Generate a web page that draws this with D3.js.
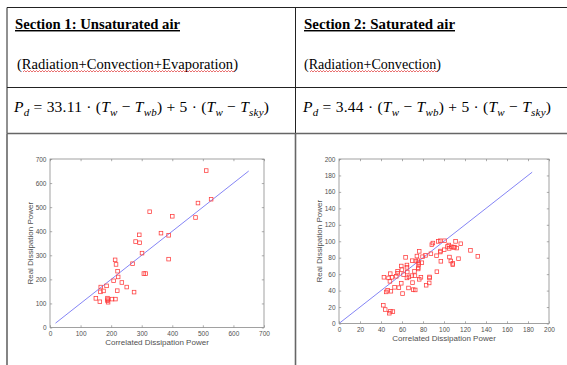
<!DOCTYPE html>
<html><head><meta charset="utf-8">
<script src="https://cdn.jsdelivr.net/npm/d3@7"></script>
<style>body{margin:0;background:#fff}svg{display:block}</style>
</head><body>
<svg id="c" width="567" height="365"></svg>
<script>
// ---- data ----
const sectionTitles = ["Section 1: Unsaturated air", "Section 2: Saturated air"];
const sectionSubs = ["(Radiation+Convection+Evaporation)", "(Radiation+Convection)"];
const coefs = ["33.11", "3.44"];
const axisLabelX = "Correlated Dissipation Power";
const axisLabelY = "Real Dissipation Power";
const ticks1 = [0,100,200,300,400,500,600,700];
const ticks2 = [0,20,40,60,80,100,120,140,160,180,200];
const fit1 = [[18,18],[650,650]];
const fit2 = [[1,1],[184,184]];
const unsatX = [511,527,484,476,400,326,363,388,388,292,280,293,301,270,213,216,221,223,208,235,185,251,166,220,175,165,275,307,313,150,188,189,203,214,163,190,188];
const unsatY = [652,533,517,457,462,481,392,383,284,385,357,352,309,265,281,262,234,210,194,187,173,168,168,153,152,148,147,224,224,121,122,116,118,118,107,105,111];
const satX = [42.2,44,47.9,49,51.3,42.8,47.2,48.8,48.5,50.4,45,46.3,49.4,52.9,57,60.5,54.5,55.8,55.8,59.3,59.9,59.3,61.5,63.4,64.7,64.7,65,64.7,66.6,66.2,69.4,70,70.7,72.6,69.7,71.9,72.3,73.2,74.2,75.1,75.8,75.4,75.4,76,76.4,76.4,78,78.9,79.6,83,82.4,85.9,86.2,86.2,87.5,88.4,89.4,92.9,93.2,94.5,96.4,96.7,96.4,97,100.2,100.5,103.3,104.6,105.2,104.9,106.5,107.1,108.4,108.4,109,110,111,112.2,113.8,116,125.2,132.2];
const satY = [22.2,17,12.5,15,14.5,56.2,55.4,60.6,51.3,56.2,38.4,40.4,39.2,44,43.6,36.4,57.4,61,63.4,69.9,65.5,48.9,59.4,80.4,71.1,68.3,62.6,55.4,56.6,43.2,58.2,49.7,41.2,40.8,76.4,63.4,58.2,76,82,76.4,73.9,67.9,66.3,71.5,87.7,53.7,56.2,73.9,81.2,46.5,82.8,49.3,55.4,56.6,84.8,95.8,97.8,82.4,63,99.8,86.9,88.1,100.6,75.6,89.7,100.6,93.7,95.4,80.8,91.3,76,93.3,73.1,71.5,92.5,92.9,99.8,91.7,78.8,97,88.9,81.6];

const svg = d3.select("#c");
const serif = "'Liberation Serif', 'Times New Roman', serif";

// ---- table ----
const lineCol = "#222";
const T = {left:7, mid:295.5, right:567, top:7.5, div1:87.5, div2:133.5, bottom:365};
const tl = [[T.left,T.top,T.right,T.top],[T.left,T.div1,T.right,T.div1],[T.left,T.top,T.left,T.div2],[T.mid,T.top,T.mid,T.div2]];
svg.selectAll("line.tb").data(tl).join("line").attr("class","tb")
  .attr("x1",d=>d[0]).attr("y1",d=>d[1]).attr("x2",d=>d[2]).attr("y2",d=>d[3])
  .attr("stroke",lineCol).attr("stroke-width",1);
const tl2 = [[T.left,T.div2,T.right,T.div2],[T.left,T.div2,T.left,T.bottom],[T.mid,T.div2,T.mid,T.bottom]];
svg.selectAll("line.tb2").data(tl2).join("line").attr("class","tb2")
  .attr("x1",d=>d[0]).attr("y1",d=>d[1]).attr("x2",d=>d[2]).attr("y2",d=>d[3])
  .attr("stroke","#666").attr("stroke-width",1.6);

const colX = [15, 304];
const subOff = [2, 0];
const titleW = [165, 151];
const subW = [221, 137];
const formW = [255, 248];
colX.forEach((x,i)=>{
  svg.append("text").attr("x",x).attr("y",29).text(sectionTitles[i])
    .attr("font-family",serif).attr("font-weight","bold").attr("font-size",14.5)
    .attr("textLength",titleW[i]).attr("lengthAdjust","spacingAndGlyphs")
    .attr("text-decoration","underline").attr("fill","#000");
  svg.append("text").attr("x",x+subOff[i]).attr("y",68.5).text(sectionSubs[i])
    .attr("font-family",serif).attr("font-size",14.5)
    .attr("textLength",subW[i]).attr("lengthAdjust","spacingAndGlyphs").attr("fill","#000");
  // spell-check wavy underline
  const wx0 = x+subOff[i]+6, wx1 = x+subOff[i]+subW[i]-4;
  let p = `M${wx0},72`;
  for(let xx=wx0, k=0; xx<wx1; xx+=1.5, k++){ p += ` L${xx+1.5},${k%2?72:70.5}`; }
  svg.append("path").attr("d",p).attr("fill","none").attr("stroke","#e03030").attr("stroke-width",0.7);
  // formula
  const f = svg.append("text").attr("x",x-1).attr("y",112)
    .attr("font-family",serif).attr("font-size",15.5).attr("fill","#000");
  const parts = [["P","i"],["d","s"],[" = "+coefs[i]+" · (","n"],["T","i"],["w","s"],[" − ","n"],["T","i"],["wb","s"],[") + 5 · (","n"],["T","i"],["w","s"],[" − ","n"],["T","i"],["sky","s"],[")","n"]];
  let shifted = false;
  parts.forEach(([t,k])=>{
    const ts = f.append("tspan").text(t);
    if(k==="i"||k==="s") ts.attr("font-style","italic");
    if(k==="s"){ ts.attr("font-size",11).attr("dy", shifted?0:3.5); shifted=true; }
    else if(shifted){ ts.attr("dy",-3.5); shifted=false; }
  });
  f.attr("textLength",formW[i]).attr("lengthAdjust","spacing");
});

// ---- charts ----
function chart(box, dom, ticks, xs, ys, fit){
  const x = d3.scaleLinear().domain(dom).range([box.x0, box.x1]);
  const y = d3.scaleLinear().domain(dom).range([box.y1, box.y0]);
  const g = svg.append("g");
  const axCol = "#8a8a8a", txtCol = "#505050";
  const tk = 2.2;
  g.append("rect").attr("x",box.x0).attr("y",box.y0).attr("width",box.x1-box.x0).attr("height",box.y1-box.y0)
    .attr("fill","none").attr("stroke",axCol).attr("stroke-width",0.8);
  const axB = d3.axisBottom(x).tickValues(ticks).tickSize(-tk).tickPadding(3.5);
  const axT = d3.axisTop(x).tickValues(ticks).tickSize(-tk).tickFormat("");
  const axL = d3.axisLeft(y).tickValues(ticks).tickSize(-tk).tickPadding(3.5);
  const axR = d3.axisRight(y).tickValues(ticks).tickSize(-tk).tickFormat("");
  [[axB,`translate(0,${box.y1})`],[axT,`translate(0,${box.y0})`],[axL,`translate(${box.x0},0)`],[axR,`translate(${box.x1},0)`]].forEach(([a,t])=>{
    const ag = g.append("g").attr("transform",t).call(a);
    ag.select(".domain").remove();
    ag.selectAll("line").attr("stroke",axCol).attr("stroke-width",0.7);
    ag.selectAll("text").attr("fill",txtCol).attr("font-family","Liberation Sans").attr("font-size",6.5);
  });
  const line = d3.line().x(d=>x(d[0])).y(d=>y(d[1]));
  g.append("path").attr("d",line(fit)).attr("fill","none").attr("stroke","#8585f5").attr("stroke-width",1);
  const s = 3.6;
  g.selectAll("rect.pt").data(d3.range(xs.length)).join("rect").attr("class","pt")
    .attr("x",i=>x(xs[i])-s/2).attr("y",i=>y(ys[i])-s/2).attr("width",s).attr("height",s)
    .attr("fill","none").attr("stroke","#ff3a3a").attr("stroke-width",0.75);
  g.append("text").attr("x",(box.x0+box.x1)/2).attr("y",box.y1+17.5).attr("text-anchor","middle")
    .attr("font-family","Liberation Sans").attr("font-size",8).attr("fill","#505050").text(axisLabelX);
  g.append("text").attr("transform",`translate(${box.x0-17.5},${(box.y0+box.y1)/2}) rotate(-90)`).attr("text-anchor","middle")
    .attr("font-family","Liberation Sans").attr("font-size",8).attr("fill","#505050").text(axisLabelY);
}
chart({x0:50,x1:264,y0:159,y1:327.5},[0,700],ticks1,unsatX,unsatY,fit1);
chart({x0:339,x1:549,y0:159,y1:323.5},[0,200],ticks2,satX,satY,fit2);
</script>
</body></html>
